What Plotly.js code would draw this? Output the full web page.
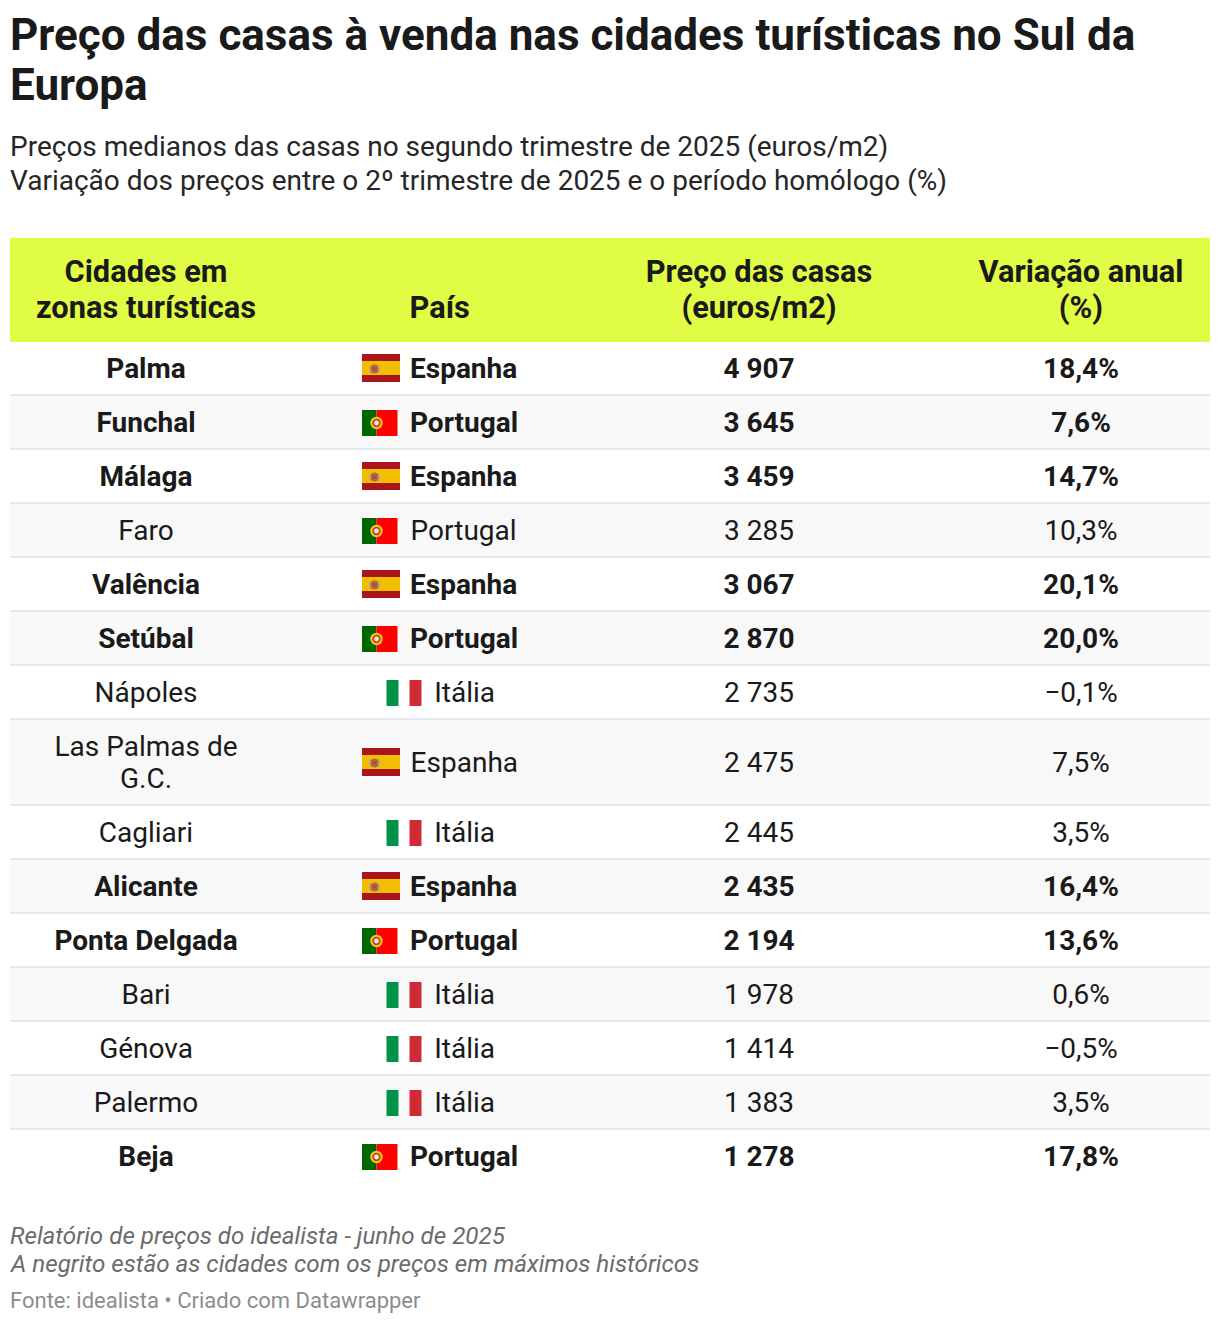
<!DOCTYPE html>
<html><head><meta charset="utf-8">
<script src="https://cdn.plot.ly/plotly-3.0.1.min.js"></script>
<style>html,body{margin:0;padding:0;background:#fff}</style>
</head><body><div id="chart" style="width:1220px;height:1324px"></div>
<script>
// ---- data ----
const cities = ["Palma","Funchal","Málaga","Faro","Valência","Setúbal","Nápoles","Las Palmas de|G.C.","Cagliari","Alicante","Ponta Delgada","Bari","Génova","Palermo","Beja"];
const countries = ["Espanha","Portugal","Espanha","Portugal","Espanha","Portugal","Itália","Espanha","Itália","Espanha","Portugal","Itália","Itália","Itália","Portugal"];
const prices = ["4 907","3 645","3 459","3 285","3 067","2 870","2 735","2 475","2 445","2 435","2 194","1 978","1 414","1 383","1 278"];
const changes = ["18,4%","7,6%","14,7%","10,3%","20,1%","20,0%","−0,1%","7,5%","3,5%","16,4%","13,6%","0,6%","−0,5%","3,5%","17,8%"];
const isRecordHigh = [true,true,true,false,true,true,false,false,false,true,true,false,false,false,true];
const headerCity = ["Cidades em","zonas turísticas"];
const headerCountry = ["País"];
const headerPrice = ["Preço das casas","(euros/m2)"];
const headerChange = ["Variação anual","(%)"];

const titleLines = ["Preço das casas à venda nas cidades turísticas no Sul da","Europa"];
const subtitleLines = ["Preços medianos das casas no segundo trimestre de 2025 (euros/m2)","Variação dos preços entre o 2º trimestre de 2025 e o período homólogo (%)"];
const noteLines = ["Relatório de preços do idealista - junho de 2025","A negrito estão as cidades com os preços em máximos históricos"];
const sourceLine = "Fonte: idealista • Criado com Datawrapper";

// ---- layout constants ----
const W=1220,H=1324,L=10,R=1210;
const FONT="Roboto, sans-serif", INK="#1a1a1a";
const colCity=146,colPrice=759,colChange=1081;
const countryTextX={"Espanha":410,"Portugal":410,"Itália":433.6};
const HEAD_TOP=238,HEAD_BOT=342,BODY_FS=28,HEAD_FS=30.8,LINE=32,TEXT_DY=2.5;
const rowH=cities.map(c=>c.includes("|")?86:54);

let tops=[],t=HEAD_BOT;rowH.forEach(h=>{tops.push(t);t+=h;});
const centers=tops.map((v,i)=>v+rowH[i]/2-1);

const shapes=[];
const rect=(x0,x1,y0,y1,fill)=>shapes.push({type:"rect",xref:"x",yref:"y",x0,x1,y0,y1,fillcolor:fill,line:{width:0},layer:"below"});
const circ=(cx,cy,r,fill)=>shapes.push({type:"circle",xref:"x",yref:"y",x0:cx-r,x1:cx+r,y0:cy-r,y1:cy+r,fillcolor:fill,line:{width:0},layer:"below"});
rect(L,R,HEAD_TOP,HEAD_BOT,"#e0fc45");
tops.forEach((top,i)=>{
  if(i%2==1) rect(L,R,top,top+rowH[i],"#f8f8f8");
  if(i<tops.length-1) rect(L,R,top+rowH[i]-2,top+rowH[i],"#e8e8e8");
});
countries.forEach((c,i)=>{
  const y=centers[i];
  if(c==="Espanha"){
    rect(362,400,y-14,y+14,"#aa151b");
    rect(362,400,y-7,y+7,"#f1bf00");
    circ(374.5,y+1,4.5,"#ad6a3c");
    rect(369,370.5,y-3,y+5,"#c4ac84");rect(378.5,380,y-3,y+5,"#c4ac84");
    circ(374.5,y+1,2,"#c8413a");
  } else if(c==="Portugal"){
    rect(362,376.5,y-12,y+14,"#006600");
    rect(376.5,397.5,y-12,y+14,"#ff0000");
    circ(376.5,y+1,6.2,"#e8d21c");
    circ(376.5,y+1,4.2,"#d63a1e");
    circ(376.5,y+1,2.4,"#f4f0e0");
  } else {
    rect(386.5,398.5,y-12,y+14,"#009246");
    rect(409.5,421.5,y-12,y+14,"#ce2b37");
  }
});

// table text, expanded line by line
function colPoints(vals,xs){
  const x=[],y=[],text=[],weight=[];
  vals.forEach((v,i)=>{
    const parts=v.split("|");
    parts.forEach((p,k)=>{
      x.push(Array.isArray(xs)?xs[i]+(isRecordHigh[i]?0:0.6):xs);
      y.push(centers[i]+TEXT_DY+(k-(parts.length-1)/2)*LINE);
      text.push(p);
      weight.push(isRecordHigh[i]?700:400);
    });
  });
  return {x,y,text,weight};
}
function textTrace(name,pts,pos){
  return {type:"scatter",mode:"text",name,x:pts.x,y:pts.y,text:pts.text,textposition:pos,
    textfont:{family:FONT,size:BODY_FS,color:INK,weight:pts.weight},hoverinfo:"skip",showlegend:false};
}
function headTrace(name,lines,x,pos){
  const ys=lines.length==2?[274.5,310.5]:[310.5];
  return {type:"scatter",mode:"text",name,x:lines.map(()=>x),y:ys,text:lines,textposition:pos,
    textfont:{family:FONT,size:HEAD_FS,color:INK,weight:700},hoverinfo:"skip",showlegend:false};
}
const traces=[
  headTrace("hCity",headerCity,colCity,"middle center"),
  headTrace("hCountry",headerCountry,409.5,"middle right"),
  headTrace("hPrice",headerPrice,colPrice,"middle center"),
  headTrace("hChange",headerChange,colChange,"middle center"),
  textTrace("Cidade",colPoints(cities,colCity),"middle center"),
  textTrace("País",colPoints(countries,countries.map(c=>countryTextX[c])),"middle right"),
  textTrace("Preço",colPoints(prices,colPrice),"middle center"),
  textTrace("Variação",colPoints(changes,colChange),"middle center")
];

const ann=(text,y,size,color,extra)=>Object.assign({text,xref:"x",yref:"y",x:L-2,y,xanchor:"left",yanchor:"middle",showarrow:false,
  font:Object.assign({family:FONT,size,color},extra||{})},{});
const annotations=[
  ann(titleLines[1],85,44,INK,{weight:700}),
  ann(subtitleLines[0],146,28,"#262626"),
  ann(subtitleLines[1],180,28,"#262626"),
  ann(noteLines[0],1236,24.2,"#6b6b6b",{style:"italic"}),
  ann(noteLines[1],1264,24.2,"#6b6b6b",{style:"italic"}),
  ann(sourceLine,1300,22,"#8c8c8c")
];

Plotly.newPlot("chart",traces,{
  width:W,height:H,margin:{l:0,r:0,t:0,b:0},paper_bgcolor:"#fff",plot_bgcolor:"#fff",
  title:{text:titleLines[0],x:L/W,xanchor:"left",xref:"paper",yref:"paper",y:1-35/H,yanchor:"middle",font:{family:FONT,size:44,color:INK,weight:700}},
  xaxis:{range:[0,W],visible:false,fixedrange:true},
  yaxis:{range:[H,0],visible:false,fixedrange:true},
  shapes,annotations,hovermode:false,showlegend:false
},{displayModeBar:false,staticPlot:true});
</script></body></html>
